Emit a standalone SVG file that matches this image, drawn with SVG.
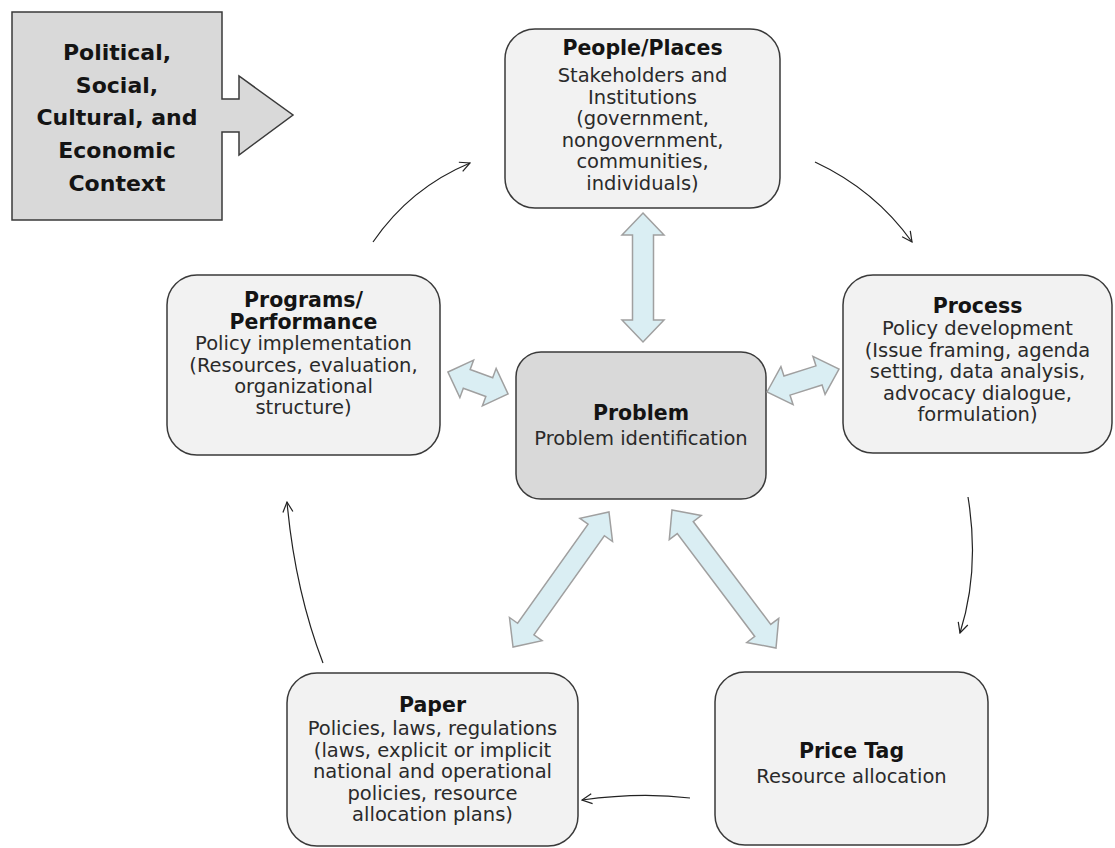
<svg xmlns="http://www.w3.org/2000/svg" width="1115" height="848" viewBox="0 0 1115 848">
<style>
.box{fill:#f2f2f2;stroke:#3a3a3a;stroke-width:1.5}
.dark{fill:#d9d9d9;stroke:#3a3a3a;stroke-width:1.5}
.t{font-family:"DejaVu Sans",sans-serif;font-size:20.5px;font-weight:bold;fill:#141414;text-anchor:middle}
.b{font-family:"DejaVu Sans",sans-serif;font-size:19.5px;fill:#2a2a2a;text-anchor:middle}
.ctx{font-family:"DejaVu Sans",sans-serif;font-size:22px;font-weight:bold;fill:#141414;text-anchor:middle}
.blk{fill:#daeef3;stroke:#a0a0a0;stroke-width:1.5}
.cur{fill:none;stroke:#222;stroke-width:1.2;marker-end:url(#open)}
</style>
<defs>
<marker id="open" viewBox="0 0 12 12" refX="11" refY="6" markerWidth="12" markerHeight="12" markerUnits="userSpaceOnUse" orient="auto">
<path d="M1,1 L11,6 L1,11" fill="none" stroke="#222" stroke-width="1.2"/>
</marker>
</defs>
<rect width="1115" height="848" fill="#ffffff"/>

<g id="context">
<path d="M12,12 H222 V99 H239 V76 L293,115 L239,155 V132 H222 V220 H12 Z" fill="#d9d9d9" stroke="#3a3a3a" stroke-width="1.5"/>
<text class="ctx" x="117" y="60">Political,</text>
<text class="ctx" x="117" y="93">Social,</text>
<text class="ctx" x="117" y="125">Cultural, and</text>
<text class="ctx" x="117" y="158">Economic</text>
<text class="ctx" x="117" y="191">Context</text>
</g>

<g id="people">
<rect class="box" x="505" y="29" width="275" height="179" rx="30"/>
<text class="t" x="642.5" y="55">People/Places</text>
<text class="b" x="642.5" y="82">Stakeholders and</text>
<text class="b" x="642.5" y="103.5">Institutions</text>
<text class="b" x="642.5" y="125">(government,</text>
<text class="b" x="642.5" y="146.5">nongovernment,</text>
<text class="b" x="642.5" y="168">communities,</text>
<text class="b" x="642.5" y="189.5">individuals)</text>
</g>

<g id="programs">
<rect class="box" x="167" y="275" width="273" height="180" rx="30"/>
<text class="t" x="303.5" y="307">Programs/</text>
<text class="t" x="303.5" y="329">Performance</text>
<text class="b" x="303.5" y="350">Policy implementation</text>
<text class="b" x="303.5" y="372">(Resources, evaluation,</text>
<text class="b" x="303.5" y="393">organizational</text>
<text class="b" x="303.5" y="414">structure)</text>
</g>

<g id="process">
<rect class="box" x="843" y="275" width="269" height="178" rx="30"/>
<text class="t" x="977.5" y="313">Process</text>
<text class="b" x="977.5" y="335">Policy  development</text>
<text class="b" x="977.5" y="356.5">(Issue framing, agenda</text>
<text class="b" x="977.5" y="378">setting, data analysis,</text>
<text class="b" x="977.5" y="399.5">advocacy dialogue,</text>
<text class="b" x="977.5" y="421">formulation)</text>
</g>

<g id="problem">
<rect class="dark" x="516" y="352" width="250" height="147" rx="25"/>
<text class="t" x="641" y="420">Problem</text>
<text class="b" x="641" y="445">Problem identification</text>
</g>

<g id="paper">
<rect class="box" x="287" y="673" width="291" height="173" rx="30"/>
<text class="t" x="432.5" y="712">Paper</text>
<text class="b" x="432.5" y="735">Policies,  laws, regulations</text>
<text class="b" x="432.5" y="757">(laws, explicit or implicit</text>
<text class="b" x="432.5" y="778">national and operational</text>
<text class="b" x="432.5" y="800">policies,  resource</text>
<text class="b" x="432.5" y="821">allocation plans)</text>
</g>

<g id="pricetag">
<rect class="box" x="715" y="672" width="273" height="173" rx="30"/>
<text class="t" x="851.5" y="758">Price Tag</text>
<text class="b" x="851.5" y="783">Resource  allocation</text>
</g>

<g id="connectors">
<path class="blk" transform="translate(643,277.5) rotate(90)" d="M-64.5,0 L-42.5,-21 L-42.5,-10.5 L42.5,-10.5 L42.5,-21 L64.5,0 L42.5,21 L42.5,10.5 L-42.5,10.5 L-42.5,21 Z"/>
<path class="blk" transform="translate(478,383) rotate(20.1)" d="M-32,0 L-12,-20 L-12,-10 L12,-10 L12,-20 L32,0 L12,20 L12,10 L-12,10 L-12,20 Z"/>
<path class="blk" transform="translate(803,380.5) rotate(-17.7)" d="M-37.8,0 L-16.8,-20 L-16.8,-10 L16.8,-10 L16.8,-20 L37.8,0 L16.8,20 L16.8,10 L-16.8,10 L-16.8,20 Z"/>
<path class="blk" transform="translate(561,579.5) rotate(-54.6)" d="M-82.8,0 L-60.8,-20 L-60.8,-10 L60.8,-10 L60.8,-20 L82.8,0 L60.8,20 L60.8,10 L-60.8,10 L-60.8,20 Z"/>
<path class="blk" transform="translate(724,579) rotate(53)" d="M-86.4,0 L-64.4,-20 L-64.4,-10 L64.4,-10 L64.4,-20 L86.4,0 L64.4,20 L64.4,10 L-64.4,10 L-64.4,20 Z"/>

<path class="cur" d="M373,242 Q410,188 470,163"/>
<path class="cur" d="M815,162 Q875,190 912,242"/>
<path class="cur" d="M968,497 Q980,570 960,633"/>
<path class="cur" d="M690,798 Q640,792 582,800"/>
<path class="cur" d="M323,663 Q295,590 287,502"/>
</g>
</svg>
